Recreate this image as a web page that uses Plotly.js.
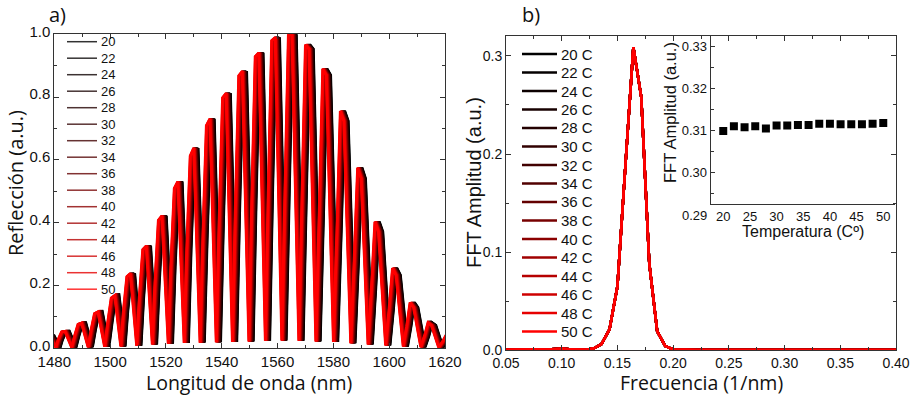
<!DOCTYPE html>
<html><head><meta charset="utf-8">
<script src="https://cdn.plot.ly/plotly-3.0.1.min.js"></script>
<style>html,body{margin:0;padding:0;background:#fff}#chart{width:912px;height:395px}</style>
</head><body><div id="chart"></div>
<script>
// ---------------- data ----------------
const temps = [20,22,24,26,28,30,32,34,36,38,40,42,44,46,48,50];
// fringe shift of each temperature curve relative to the 20 C curve (nm)
const tempShift = [0,-0.11,-0.21,-0.32,-0.43,-0.53,-0.64,-0.75,-0.85,-0.96,-1.07,-1.17,-1.28,-1.39,-1.49,-1.6];
// reflection spectrum of the 20 C curve, fringe by fringe
const fringeWl   = [1479.3,1484.8,1490.7,1496.6,1502.6,1508.2,1513.9,1519.5,1525.2,1530.9,1536.7,1542.5,1548.3,1554.2,1560.1,1566.1,1572.2,1578.4,1584.7,1590.9,1597.1,1603.4,1609.7,1616.1,1622.5];
const fringeTopL = [0.04,0.052,0.076,0.110,0.160,0.228,0.314,0.408,0.509,0.612,0.709,0.798,0.868,0.929,0.98,1.0,0.967,0.89,0.756,0.575,0.403,0.255,0.146,0.081,0.04];
const fringeTopR = [0.04,0.054,0.080,0.116,0.168,0.238,0.326,0.422,0.531,0.638,0.731,0.812,0.882,0.941,0.99,1.0,0.953,0.87,0.724,0.541,0.371,0.233,0.13,0.073,0.04];
const fringeShoulder = [0.02,0.027,0.039,0.057,0.082,0.117,0.16,0.207,0.26,0.312,0.36,0.402,0.437,0.467,0.492,0.5,0.48,0.44,0.37,0.279,0.193,0.122,0.069,0.039,0.02];
const troughWl = [1476.2,1482.1,1487.8,1493.7,1499.6,1505.4,1511.1,1516.7,1522.4,1528.1,1533.8,1539.6,1545.4,1551.3,1557.2,1563.1,1569.2,1575.3,1581.6,1587.8,1594.0,1600.3,1606.6,1612.9,1619.3,1625.7];
const troughR  = [0.001,0.002,0.003,0.004,0.005,0.006,0.008,0.012,0.015,0.017,0.018,0.019,0.02,0.022,0.024,0.025,0.024,0.022,0.02,0.016,0.012,0.009,0.006,0.004,0.003,0.002];
// FFT of the spectra
const fftFreq = [0.05,0.0571,0.0643,0.0714,0.0786,0.0857,0.0929,0.1,0.1071,0.1143,0.1214,0.1286,0.1357,0.1429,0.15,0.1571,0.1643,0.1714,0.1786,0.1857,0.1929,0.2,0.2071,0.2143,0.2214,0.2286,0.2357,0.2429,0.25,0.2571,0.2643,0.2714,0.2786,0.2857,0.2929,0.3,0.3071,0.3143,0.3214,0.3286,0.3357,0.3429,0.35,0.3571,0.3643,0.3714,0.3786,0.3857,0.3929,0.4];
const fftAmp  = [0.0002,0.0004,0.0008,0.001,0.0008,0.0005,0.001,0.0012,0.0008,0.0003,0.0002,0.0015,0.006,0.021,0.065,0.187,0.309,0.258,0.088,0.019,0.004,0.0005,0.0002,0.0001,0.0001,0.0001,0.0001,0.0001,0.0001,0.0001,0.0001,0.0001,0.0001,0.0001,0.0001,0.0001,0.0002,0.0003,0.0004,0.0005,0.0005,0.0004,0.0005,0.0004,0.0003,0.0002,0.0002,0.0001,0.0001,0.0001];
// inset: FFT peak amplitude vs temperature
const insetAmp = [0.3100,0.3111,0.3109,0.3111,0.3106,0.3113,0.3113,0.3114,0.3114,0.3117,0.3117,0.3116,0.3116,0.3116,0.3117,0.3119];
// tick labels
const leftXTicks = [1480,1500,1520,1540,1560,1580,1600,1620];
const leftYTicks = [0,0.2,0.4,0.6,0.8,1.0];
const leftYText  = ['0.0','0.2','0.4','0.6','0.8','1.0'];
const rightXTicks = [0.05,0.10,0.15,0.20,0.25,0.30,0.35,0.40];
const rightXText  = ['0.05','0.10','0.15','0.20','0.25','0.30','0.35','0.40'];
const rightYTicks = [0,0.1,0.2,0.3];
const rightYText  = ['0.0','0.1','0.2','0.3'];
const insetXTicks = [20,25,30,35,40,45,50];
const insetYTicks = [0.30,0.31,0.32,0.33];
const insetYText  = ['0.30','0.31','0.32','0.33'];
const leftLegend  = temps.map(t => String(t));
const rightLegend = temps.map(t => t + ' C');

// --------------- build -----------------
const W = 912, H = 395;
const px = v => v / W, py = v => 1 - v / H;
function tcol(i){ const r = Math.round(255 * Math.pow(i / (temps.length - 1), 1.5)); return 'rgb(' + r + ',0,0)'; }
// half widths of the flat fringe top and of the shoulder points
const TOP_HW = 0.625, SH_HW = 1.875;

const baseX = [], baseY = [];
for (let k = 0; k < fringeWl.length; k++) {
  baseX.push(troughWl[k]); baseY.push(troughR[k]);
  baseX.push(fringeWl[k] - SH_HW); baseY.push(fringeShoulder[k]);
  baseX.push(fringeWl[k] - TOP_HW); baseY.push(fringeTopL[k]);
  baseX.push(fringeWl[k] + TOP_HW); baseY.push(fringeTopR[k]);
  baseX.push(fringeWl[k] + SH_HW); baseY.push(fringeShoulder[k]);
}
baseX.push(troughWl[fringeWl.length]); baseY.push(troughR[fringeWl.length]);

const traces = [];
temps.forEach((t, i) => {
  traces.push({
    x: baseX.map(v => v + tempShift[i]), y: baseY,
    type: 'scatter', mode: 'lines', xaxis: 'x', yaxis: 'y',
    line: {color: tcol(i), width: 2.8},
    showlegend: false, hoverinfo: 'skip'
  });
});
temps.forEach((t, i) => {
  traces.push({
    x: fftFreq, y: fftAmp,
    type: 'scatter', mode: 'lines', xaxis: 'x2', yaxis: 'y2',
    line: {color: tcol(i), width: 2.5},
    showlegend: false, hoverinfo: 'skip'
  });
});
traces.push({
  x: temps, y: insetAmp, type: 'scatter', mode: 'markers', xaxis: 'x3', yaxis: 'y3',
  marker: {symbol: 'square', size: 8, color: '#000'}, showlegend: false, hoverinfo: 'skip'
});

const ARIAL = 'Arial, "Liberation Sans", sans-serif';
const tickFont = s => ({family: ARIAL, size: s, color: '#111'});
const axBase = {showline: true, linecolor: '#333', linewidth: 1, mirror: 'ticks', ticks: 'inside',
  ticklen: 5, tickcolor: '#333', showgrid: false, zeroline: false, tickmode: 'array', fixedrange: true};

const layout = {
  width: W, height: H, margin: {l: 0, r: 0, t: 0, b: 0},
  paper_bgcolor: '#fff', plot_bgcolor: 'rgba(0,0,0,0)', showlegend: false,
  xaxis: Object.assign({}, axBase, {domain: [px(54.3), px(445)], anchor: 'y', range: [1480, 1620],
    tickvals: leftXTicks, ticktext: leftXTicks.map(String), tickfont: tickFont(15),
    minor: {tickmode: 'linear', tick0: 1480, dtick: 10, ticks: 'inside', ticklen: 3, tickcolor: '#333'}}),
  yaxis: Object.assign({}, axBase, {domain: [py(348.3), py(34.3)], anchor: 'x', range: [0, 1.0],
    tickvals: leftYTicks, ticktext: leftYText, tickfont: tickFont(15), ticklabelshift: -3,
    minor: {tickmode: 'linear', tick0: 0, dtick: 0.1, ticks: 'inside', ticklen: 3, tickcolor: '#333'}}),
  xaxis2: Object.assign({}, axBase, {domain: [px(506), px(896)], anchor: 'y2', range: [0.05, 0.40],
    tickvals: rightXTicks, ticktext: rightXText, tickfont: tickFont(14),
    minor: {tickmode: 'linear', tick0: 0.05, dtick: 0.025, ticks: 'inside', ticklen: 3, tickcolor: '#333'}}),
  yaxis2: Object.assign({}, axBase, {domain: [py(350), py(36)], anchor: 'x2', range: [0, 0.3204],
    tickvals: rightYTicks, ticktext: rightYText, tickfont: tickFont(14),
    minor: {tickmode: 'linear', tick0: 0, dtick: 0.05, ticks: 'inside', ticklen: 3, tickcolor: '#333'}}),
  xaxis3: {domain: [px(710.7), px(895)], anchor: 'y3', range: [17.65, 52.2], showline: true, linecolor: '#333',
    linewidth: 1, mirror: false, ticks: '', showgrid: false, zeroline: false, tickmode: 'array',
    tickvals: insetXTicks, ticktext: insetXTicks.map(String), tickfont: tickFont(13), fixedrange: true},
  yaxis3: {domain: [py(204), py(36)], anchor: 'x3', range: [0.2926, 0.3326], showline: true, linecolor: '#333',
    linewidth: 1, mirror: false, ticks: 'inside', ticklen: 4, tickcolor: '#333', showgrid: false, zeroline: false,
    tickmode: 'array', tickvals: insetYTicks, ticktext: insetYText, tickfont: tickFont(13), fixedrange: true,
    minor: {tickmode: 'linear', tick0: 0.295, dtick: 0.005, ticks: 'inside', ticklen: 3, tickcolor: '#333'}},
  shapes: [], annotations: []
};

const osans = s => ({family: '"Open Sans", sans-serif', size: s, color: '#111'});
const arial = s => ({family: ARIAL, size: s, color: '#111'});
function ann(text, x, y, font, opts) {
  layout.annotations.push(Object.assign({text: text, x: px(x), y: py(y), xref: 'paper', yref: 'paper',
    showarrow: false, font: font, xanchor: 'center', yanchor: 'middle', borderpad: 0}, opts || {}));
}
ann('a)', 57, 15, osans(20));
ann('b)', 531, 15, osans(20));
ann('Reflección (a.u.)', 15, 183, osans(20), {textangle: -90});
ann('Longitud de onda (nm)', 249, 382, osans(19.5));
ann('FFT Amplitud (a.u.)', 474, 183, arial(20), {textangle: -90});
ann('Frecuencia (1/nm)', 701, 382, osans(19.5));
ann('FFT Amplitud (a.u.)', 670, 113, arial(16.5), {textangle: -90});
ann('Temperatura (Cº)', 803, 231, arial(16));
ann('0.29', 708, 215, tickFont(13), {xanchor: 'right'});

// manual legends
temps.forEach((t, i) => {
  const yl = 41.7 + 16.5 * i;
  layout.shapes.push({type: 'line', xref: 'paper', yref: 'paper', x0: px(67), x1: px(97), y0: py(yl), y1: py(yl),
    line: {color: tcol(i), width: 1.5}, opacity: 0.8});
  ann(leftLegend[i], 100, yl, arial(13), {xanchor: 'left'});
  const yr = 54 + 18.5 * i;
  layout.shapes.push({type: 'line', xref: 'paper', yref: 'paper', x0: px(522), x1: px(557), y0: py(yr), y1: py(yr),
    line: {color: tcol(i), width: 2.5}});
  ann(rightLegend[i], 560, yr, arial(15), {xanchor: 'left'});
});

Plotly.newPlot('chart', traces, layout, {staticPlot: true, displayModeBar: false});
</script>
</body></html>
